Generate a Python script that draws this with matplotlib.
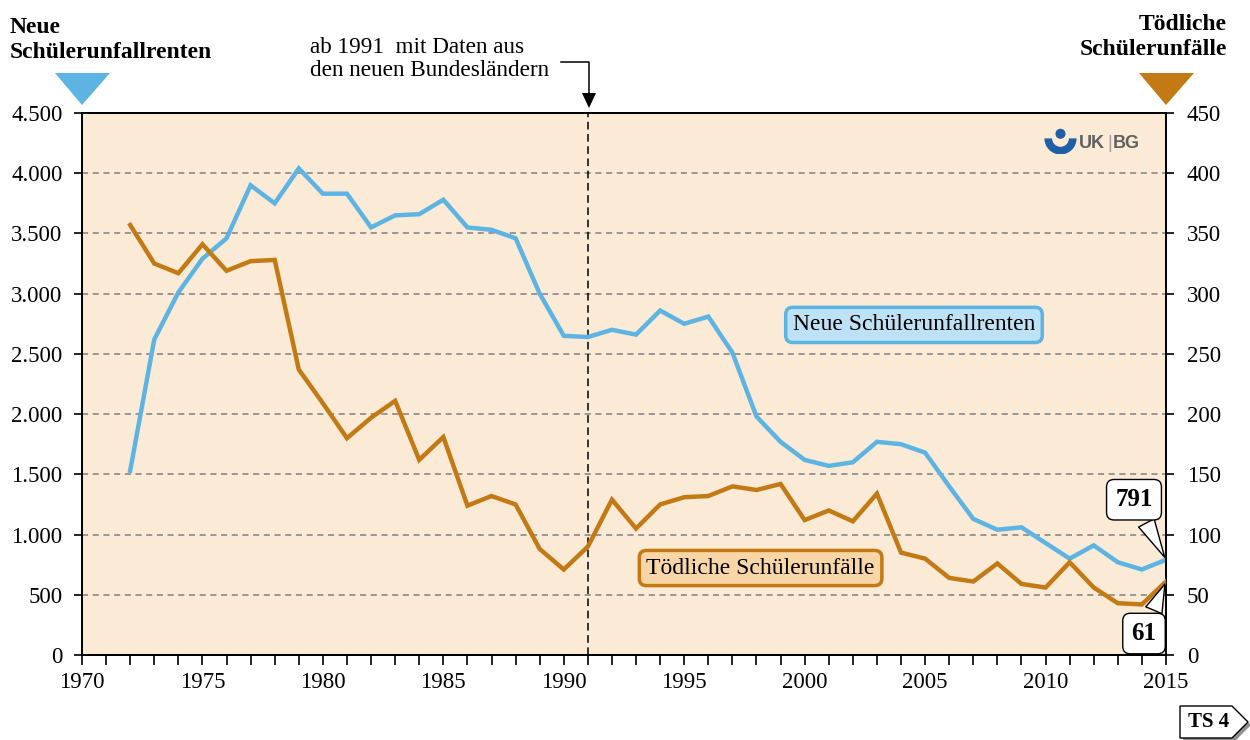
import matplotlib
matplotlib.use("Agg")
import matplotlib.pyplot as plt
from matplotlib.ticker import MultipleLocator, FuncFormatter
from matplotlib.patches import Polygon, Wedge, Circle
from matplotlib.lines import Line2D

plt.rcParams['font.family'] = ['Liberation Serif', 'DejaVu Serif']

years = list(range(1972, 2016))
renten = [1530, 2620, 3010, 3290, 3460, 3900, 3750, 4040, 3830, 3830,
          3550, 3650, 3660, 3780, 3550, 3530, 3460, 3000, 2650, 2640,
          2700, 2660, 2860, 2750, 2810, 2510, 1980, 1770, 1620, 1570,
          1600, 1770, 1750, 1680, 1400, 1130, 1040, 1060, 930, 800,
          910, 770, 710, 791]
toedlich = [357, 325, 317, 341, 319, 327, 328, 237, 209, 180,
            197, 211, 162, 181, 124, 132, 125, 88, 71, 90,
            129, 105, 125, 131, 132, 140, 137, 142, 112, 120,
            111, 134, 85, 80, 64, 61, 76, 59, 56, 77,
            56, 43, 42, 61]

label_renten = "Neue Schülerunfallrenten"
label_toedlich = "Tödliche Schülerunfälle"
head_left = "Neue\nSchülerunfallrenten"
head_right = "Tödliche\nSchülerunfälle"
note_1991 = "ab 1991  mit Daten aus\nden neuen Bundesländern"

BLUE = "#5DB4E2"
ORANGE = "#C47A14"
BG = "#FAEAD6"

W, H = 1250, 740
fig = plt.figure(figsize=(W / 100, H / 100), dpi=100)


def fx(x):
    return x / W


def fy(y):
    return 1 - y / H


ax = fig.add_axes([fx(82), fy(655), fx(1166) - fx(82), fy(113) - fy(655)])
ax.set_facecolor(BG)
ax2 = ax.twinx()

ax.plot(years, renten, color=BLUE, lw=3.2, solid_joinstyle='miter', zorder=3)
ax2.plot(years, toedlich, color=ORANGE, lw=3.2, solid_joinstyle='miter', zorder=3)

ax.set_xlim(1970, 2015)
ax.set_ylim(0, 4500)
ax2.set_ylim(0, 450)

ax.xaxis.set_major_locator(MultipleLocator(5))
ax.xaxis.set_minor_locator(MultipleLocator(1))
ax.yaxis.set_major_locator(MultipleLocator(500))
ax2.yaxis.set_major_locator(MultipleLocator(50))
ax.yaxis.set_major_formatter(FuncFormatter(lambda v, p: f"{int(v):,}".replace(",", ".")))

ax.tick_params(axis='x', which='both', direction='out', length=7, width=1.2,
               labelsize=16.5, pad=5)
ax.tick_params(axis='y', direction='out', length=6, width=1.2, labelsize=16.5, pad=8)
ax2.tick_params(axis='y', direction='out', length=6, width=1.2, labelsize=16.5, pad=9)

for a in (ax, ax2):
    for s in a.spines.values():
        s.set_linewidth(1.3)
        s.set_color("black")

ax.grid(axis='y', color="#808080", linestyle=(0, (4, 3)), lw=1.1, zorder=1)
ax.set_axisbelow(True)
ax.axvline(1991, color="black", lw=1.1, linestyle=(0, (5, 3)), zorder=2)

# series labels
ax.text(0.7675, 0.609, label_renten, transform=ax.transAxes, fontsize=17,
        ha='center', va='center', zorder=5,
        bbox=dict(boxstyle="round,pad=0.3,rounding_size=0.3", fc="#BEE2F5",
                  ec=BLUE, lw=2.5))
ax.text(0.626, 0.1605, label_toedlich, transform=ax.transAxes, fontsize=17,
        ha='center', va='center', zorder=5,
        bbox=dict(boxstyle="round,pad=0.3,rounding_size=0.3", fc="#F8D6A8",
                  ec=ORANGE, lw=2.5))

# end value callouts
ax.annotate(f"{renten[-1]}", xy=(years[-1], renten[-1]), xytext=(-32, 60),
            textcoords='offset pixels', fontsize=18, fontweight='bold',
            ha='center', va='center', zorder=6, annotation_clip=False,
            bbox=dict(boxstyle="round,pad=0.35,rounding_size=0.3", fc="white",
                      ec="black", lw=1.0),
            arrowprops=dict(arrowstyle="wedge,tail_width=0.7,shrink_factor=0.5",
                            fc="white", ec="black", lw=1.0))
ax2.annotate(f"{toedlich[-1]}", xy=(years[-1], toedlich[-1]), xytext=(-22, -52),
             textcoords='offset pixels', fontsize=18, fontweight='bold',
             ha='center', va='center', zorder=6, annotation_clip=False,
             bbox=dict(boxstyle="round,pad=0.35,rounding_size=0.3", fc="white",
                       ec="black", lw=1.0),
             arrowprops=dict(arrowstyle="wedge,tail_width=0.7,shrink_factor=0.5",
                             fc="white", ec="black", lw=1.0))

# axis headings with pointer triangles
fig.text(fx(10), fy(40), head_left, fontsize=17, fontweight='bold',
         ha='left', va='center', linespacing=1.3)
fig.text(fx(1227), fy(37), head_right, fontsize=17, fontweight='bold',
         ha='right', va='center', linespacing=1.3)
fig.add_artist(Polygon([(fx(55), fy(73)), (fx(110), fy(73)), (fx(82), fy(105))],
                       closed=True, fc=BLUE, ec='none', transform=fig.transFigure))
fig.add_artist(Polygon([(fx(1139), fy(73)), (fx(1194), fy(73)), (fx(1166), fy(105))],
                       closed=True, fc=ORANGE, ec='none', transform=fig.transFigure))

# 1991 note with elbow arrow
fig.text(fx(310), fy(59), note_1991, fontsize=16.7, ha='left', va='center',
         linespacing=1.1)
fig.add_artist(Line2D([fx(561), fx(589), fx(589)], [fy(62), fy(62), fy(96)],
                      color="black", lw=1.1, transform=fig.transFigure))
fig.add_artist(Polygon([(fx(582), fy(93)), (fx(596), fy(93)), (fx(589), fy(108))],
                       closed=True, fc="black", ec='none', transform=fig.transFigure))

# logo
lax = fig.add_axes([fx(1043), fy(154), fx(1078) - fx(1043), fy(127) - fy(154)])
lax.set_xlim(-1.25, 1.25)
lax.set_ylim(-1.05, 0.85)
lax.set_aspect('equal')
lax.axis('off')
lax.add_patch(Wedge((0, 0.05), 1.15, 180, 360, width=0.55, fc="#1F5FA8", ec='none'))
lax.add_patch(Circle((0, 0.38), 0.36, fc="#1F5FA8", ec='none'))
fig.text(fx(1079), fy(144), "UK", fontsize=13, fontweight='bold',
         family='Liberation Sans', color="#606060", ha='left', va='center')
fig.text(fx(1110), fy(144), "|", fontsize=13, family='Liberation Sans',
         color="#A0A0A0", ha='center', va='center')
fig.text(fx(1113), fy(144), "BG", fontsize=13, fontweight='bold',
         family='Liberation Sans', color="#606060", ha='left', va='center')

# page tag
fig.add_artist(Polygon([(fx(1183), fy(709)), (fx(1235), fy(709)), (fx(1251), fy(725)),
                        (fx(1235), fy(741)), (fx(1183), fy(741))],
                       closed=True, fc="#909090", ec='none', transform=fig.transFigure))
fig.add_artist(Polygon([(fx(1180), fy(706)), (fx(1232), fy(706)), (fx(1248), fy(722)),
                        (fx(1232), fy(738)), (fx(1180), fy(738))],
                       closed=True, fc="white", ec="black", lw=1.0,
                       transform=fig.transFigure))
fig.text(fx(1209), fy(722), "TS 4", fontsize=15, fontweight='bold',
         ha='center', va='center')

fig.savefig("out.png", dpi=100)
